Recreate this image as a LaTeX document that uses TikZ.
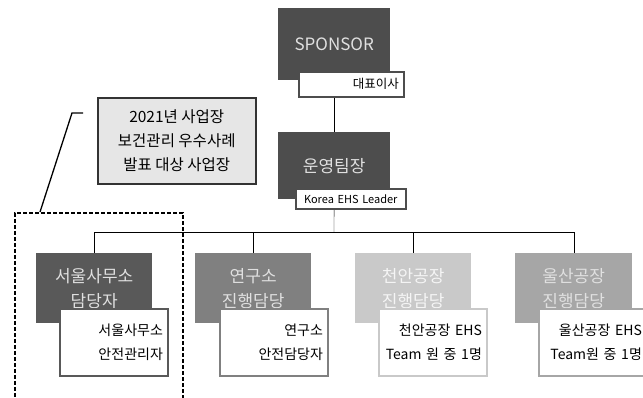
\documentclass[tikz,border=0pt]{standalone}
\usepackage{fontspec}
\setmainfont{Noto Sans CJK KR}
\usetikzlibrary{backgrounds}
\definecolor{chief}{HTML}{4D4D4D}
\definecolor{seoul}{HTML}{595959}
\definecolor{lab}{HTML}{808080}
\definecolor{cheonan}{HTML}{C9C9C9}
\definecolor{ulsan}{HTML}{A6A6A6}
\definecolor{notefill}{HTML}{E6E6E6}
\definecolor{wire}{HTML}{7A7A7A}

\begin{document}
\begin{tikzpicture}[x=1pt,y=-1pt,
  role/.style={anchor=north west,inner sep=0pt,text=white!88!black,align=center,
    minimum width=116pt,minimum height=70pt,font=\fontsize{17}{25}\selectfont},
  duty/.style={anchor=north west,fill=white,line width=1.8pt,inner xsep=5pt,inner ysep=0pt,
    text width=98pt,minimum height=67pt,align=right,font=\fontsize{14}{24}\selectfont}]
\useasboundingbox (0,0) rectangle (643,397);

% top of the chart
\node[role,fill=chief,minimum width=112pt,minimum height=72pt,font=\fontsize{17}{20}\selectfont] (sponsor) at (278,8) {SPONSOR};
\node[duty,draw=chief,line width=1.5pt,text width=95pt,minimum height=25pt,font=\fontsize{12.5}{14}\selectfont] (ceo) at (298,71) {대표이사};
\node[role,fill=chief,minimum width=112pt,minimum height=67pt,font=\fontsize{17}{20}\selectfont] (ops) at (278,132) {운영팀장};
\node[duty,draw=chief,line width=1.5pt,inner xsep=2pt,text width=106pt,minimum height=20pt,align=center,font=\fontsize{11}{12}\selectfont] (leader) at (295,188) {Korea EHS Leader};

% sites
\node[role,fill=seoul] (seoulhead) at (36,253) {서울사무소\\담당자};
\node[duty,draw=seoul] (seouldesk) at (59,308) {서울사무소\\안전관리자};
\node[role,fill=lab] (labhead) at (195,253) {연구소\\진행담당};
\node[duty,draw=lab] (labdesk) at (219,308) {연구소\\안전담당자};
\node[role,fill=cheonan,text=white!96!black] (cheonanhead) at (355,253) {천안공장\\진행담당};
\node[duty,draw=cheonan] (cheonandesk) at (378,308) {천안공장 EHS\\Team 원 중 1명};
\node[role,fill=ulsan,minimum width=117pt] (ulsanhead) at (515,253) {울산공장\\진행담당};
\node[duty,draw=ulsan] (ulsandesk) at (538,308) {울산공장 EHS\\Team원 중 1명};

% callout
\node[anchor=north west,draw=black!80,fill=notefill,line width=1.5pt,minimum width=158pt,minimum height=86pt,
  align=center,font=\fontsize{15.5}{24}\selectfont] (note) at (97,97) {2021년 사업장\\보건관리 우수사례\\발표 대상 사업장};
\node[anchor=north west,draw,line width=1.8pt,dash pattern=on 4pt off 2pt,inner sep=0pt,
  minimum width=168pt,minimum height=210pt] (focus) at (14,212) {};
\coordinate (tick) at (83,113);
\draw[line width=1.3pt] (tick) -- ++(-11,0) -- ([xshift=26pt]focus.north west);

\begin{scope}[on background layer,draw=wire,line width=1.8pt]
  \fill[white] (0,0) rectangle (643,397);
  \coordinate (bus) at (334,232);
  \draw (sponsor) -- (ops);
  \draw (ops) -- (bus);
  \draw (seoulhead.north |- bus) -- (ulsanhead.north |- bus);
  \foreach \site in {seoulhead,labhead,cheonanhead,ulsanhead}
    \draw (\site.north) -- (\site.north |- bus);
\end{scope}
\end{tikzpicture}
\end{document}
